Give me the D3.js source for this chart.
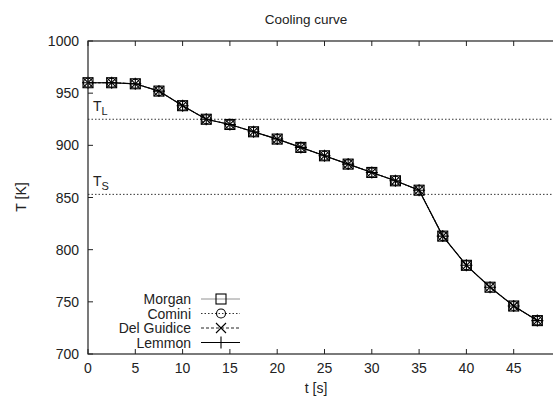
<!DOCTYPE html>
<html>
<head>
<meta charset="utf-8">
<script src="https://cdn.jsdelivr.net/npm/d3@7"></script>
<style>
  body { margin: 0; background: #fff; }
  svg { display: block; font-family: "Liberation Sans", Arial, sans-serif; }
</style>
</head>
<body>
<div id="chart"></div>
<script>
'use strict'

// data
const times = [0, 2.5, 5, 7.5, 10, 12.5, 15, 17.5, 20, 22.5, 25, 27.5, 30, 32.5, 35, 37.5, 40, 42.5, 45, 47.5]
const temps = [960, 960, 959, 952, 938, 925, 920, 913, 906, 898, 890, 882, 874, 866, 857, 813, 785, 764, 746, 732]
const seriesNames = ['Morgan', 'Comini', 'Del Guidice', 'Lemmon']
const xTicks = [0, 5, 10, 15, 20, 25, 30, 35, 40, 45, 50]
const yTicks = [700, 750, 800, 850, 900, 950, 1000]
const tLiquidus = 925
const tSolidus = 853

const W = 553, H = 403
const margin = {left: 88, top: 41, right: -8, bottom: 49}
const width = W - margin.left - margin.right
const height = H - margin.top - margin.bottom

const svg = d3.select('#chart').append('svg')
    .attr('width', W).attr('height', H)
    .style('overflow', 'hidden')

const x = d3.scaleLinear().domain([0, 50]).range([margin.left, margin.left + width])
const y = d3.scaleLinear().domain([700, 1000]).range([margin.top + height, margin.top])

// series styles
const styles = {
    'Morgan':      {stroke: '#777', dash: null, width: 0.8, marker: 'square'},
    'Comini':      {stroke: '#333', dash: '1.5,2', width: 1, marker: 'circle'},
    'Del Guidice': {stroke: '#222', dash: '3,2', width: 1, marker: 'cross'},
    'Lemmon':      {stroke: '#000', dash: null, width: 1.2, marker: 'plus'}
}

const data = times.map((t, i) => ({t: t, T: temps[i]}))

function drawMarker(g, type, cx, cy) {
    const s = 5
    if (type === 'square') {
        g.append('rect').attr('x', cx - s).attr('y', cy - s).attr('width', 2 * s).attr('height', 2 * s)
            .attr('fill', 'none').attr('stroke', '#000').attr('stroke-width', 1.1)
    } else if (type === 'circle') {
        g.append('circle').attr('cx', cx).attr('cy', cy).attr('r', s - 0.5)
            .attr('fill', 'none').attr('stroke', '#000').attr('stroke-width', 1.1)
    } else if (type === 'cross') {
        g.append('path').attr('d', `M${cx - s},${cy - s}L${cx + s},${cy + s}M${cx - s},${cy + s}L${cx + s},${cy - s}`)
            .attr('stroke', '#000').attr('stroke-width', 1.1)
    } else {
        g.append('path').attr('d', `M${cx - s - 1},${cy}L${cx + s + 1},${cy}M${cx},${cy - s - 1}L${cx},${cy + s + 1}`)
            .attr('stroke', '#000').attr('stroke-width', 1.1)
    }
}

// threshold lines
svg.append('g').selectAll('line').data([tLiquidus, tSolidus]).join('line')
    .attr('x1', x(0)).attr('x2', x(50))
    .attr('y1', d => y(d)).attr('y2', d => y(d))
    .attr('stroke', '#000').attr('stroke-width', 0.8).attr('stroke-dasharray', '1.5,2')

const labT = svg.append('g').attr('font-size', 14).attr('fill', '#222')
;[[tLiquidus, 'L'], [tSolidus, 'S']].forEach(([v, sub]) => {
    const tx = labT.append('text').attr('x', x(0) + 5).attr('y', y(v) - 8).text('T')
    tx.append('tspan').attr('dy', 4).attr('font-size', 11).text(sub)
})

// series lines and markers (all series coincide)
const line = d3.line().x(d => x(d.t)).y(d => y(d.T))
seriesNames.forEach(name => {
    const st = styles[name]
    svg.append('path').datum(data)
        .attr('d', line).attr('fill', 'none')
        .attr('stroke', st.stroke).attr('stroke-width', st.width)
        .attr('stroke-dasharray', st.dash)
})
seriesNames.forEach(name => {
    const g = svg.append('g')
    data.forEach(d => drawMarker(g, styles[name].marker, x(d.t), y(d.T)))
})

// frame
svg.append('rect').attr('x', margin.left).attr('y', margin.top)
    .attr('width', width).attr('height', height)
    .attr('fill', 'none').attr('stroke', '#222').attr('stroke-width', 1.2)

// axes
const tickLen = 5
const ax = svg.append('g').attr('stroke', '#222').attr('stroke-width', 1)
xTicks.forEach(v => {
    ax.append('line').attr('x1', x(v)).attr('x2', x(v)).attr('y1', y(700)).attr('y2', y(700) - tickLen)
    ax.append('line').attr('x1', x(v)).attr('x2', x(v)).attr('y1', y(1000)).attr('y2', y(1000) + tickLen)
})
yTicks.forEach(v => {
    ax.append('line').attr('x1', x(0)).attr('x2', x(0) + tickLen).attr('y1', y(v)).attr('y2', y(v))
})

svg.append('g').selectAll('text').data(xTicks.filter(v => x(v) < W)).join('text')
    .attr('x', d => x(d)).attr('y', y(700) + 19)
    .attr('text-anchor', 'middle').attr('font-size', 14).attr('fill', '#222')
    .text(d => d)

svg.append('g').selectAll('text').data(yTicks).join('text')
    .attr('x', x(0) - 9).attr('y', d => y(d) + 5)
    .attr('text-anchor', 'end').attr('font-size', 14).attr('fill', '#222')
    .text(d => d)

svg.append('text').attr('x', 316).attr('y', 393).attr('text-anchor', 'middle')
    .attr('font-size', 14).attr('fill', '#222').text('t [s]')
svg.append('text').attr('transform', 'translate(26,197) rotate(-90)').attr('text-anchor', 'middle')
    .attr('font-size', 14).attr('fill', '#222').text('T [K]')
svg.append('text').attr('x', 306).attr('y', 24).attr('text-anchor', 'middle')
    .attr('font-size', 13.5).attr('fill', '#222').text('Cooling curve')

// legend
const legY0 = 299, legDy = 14.5
seriesNames.forEach((name, i) => {
    const st = styles[name]
    const ly = legY0 + i * legDy
    svg.append('text').attr('x', 191).attr('y', ly + 5).attr('text-anchor', 'end')
        .attr('font-size', 14).attr('fill', '#222').text(name)
    svg.append('line').attr('x1', 201).attr('x2', 240).attr('y1', ly).attr('y2', ly)
        .attr('stroke', st.stroke).attr('stroke-width', st.width).attr('stroke-dasharray', st.dash)
    drawMarker(svg.append('g'), st.marker, 221, ly)
})
</script>
</body>
</html>
